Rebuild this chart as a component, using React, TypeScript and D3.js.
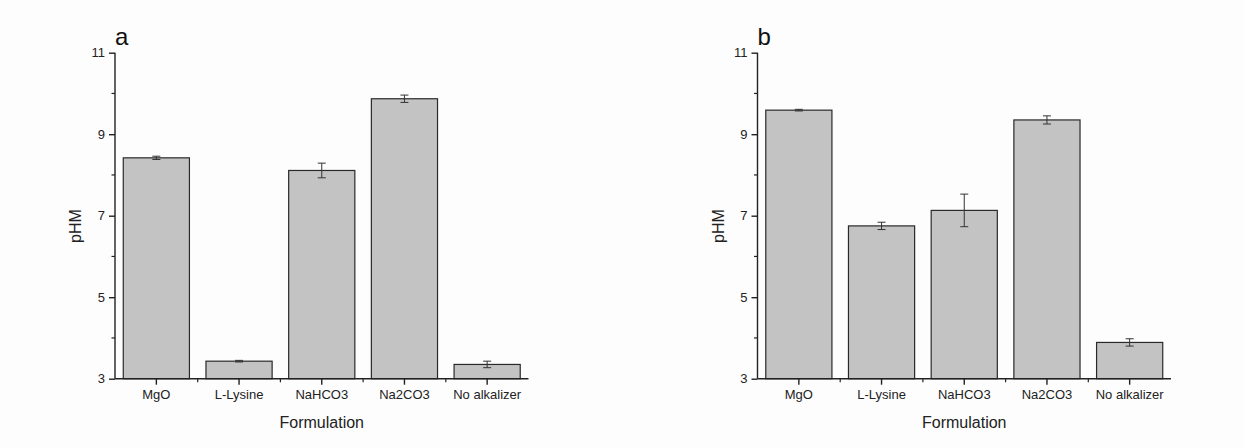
import React, { useEffect, useRef } from "react";
import * as d3 from "d3";

const categories = ["MgO", "L-Lysine", "NaHCO3", "Na2CO3", "No alkalizer"];

const valuesA = [8.42, 3.43, 8.11, 9.87, 3.35];
const errorsA = [0.04, 0.02, 0.18, 0.09, 0.08];

const valuesB = [9.59, 6.75, 7.13, 9.35, 3.89];
const errorsB = [0.02, 0.09, 0.4, 0.1, 0.09];

const majorTicks = [3, 5, 7, 9, 11];
const minorTicks = [4, 6, 8, 10];

const panels = [
  { label: "a", values: valuesA, errors: errorsA, left: 115 },
  { label: "b", values: valuesB, errors: errorsB, left: 757.5 },
];

const App: React.FC = () => {
  const svgRef = useRef<SVGSVGElement>(null);

  useEffect(() => {
    if (!svgRef.current) return;
    const root = d3.select(svgRef.current);
    root.selectAll("*").remove();

    const top = 52.7;
    const bottom = 378.7;
    const plotW = 413.5;
    const font = "Arial, 'Liberation Sans', sans-serif";

    root
      .append("rect")
      .attr("width", 1244)
      .attr("height", 448)
      .attr("fill", "#fdfdfd");

    panels.forEach((p) => {
      const g = root.append("g").attr("transform", `translate(${p.left},0)`);

      const x = d3
        .scaleBand<string>()
        .domain(categories)
        .range([0, plotW])
        .paddingInner(0.2)
        .paddingOuter(0.1);

      const y = d3.scaleLinear().domain([3, 11]).range([bottom, top]);

      const rows = categories.map((c, i) => ({
        cat: c,
        value: p.values[i],
        err: p.errors[i],
      }));

      // Bars
      g.selectAll("rect.bar")
        .data(rows)
        .enter()
        .append("rect")
        .attr("class", "bar")
        .attr("x", (d) => x(d.cat)!)
        .attr("y", (d) => y(d.value))
        .attr("width", x.bandwidth())
        .attr("height", (d) => y(3) - y(d.value))
        .attr("fill", "#c3c3c3")
        .attr("stroke", "#2a2a2a")
        .attr("stroke-width", 1.2);

      // Error bars
      const eb = g
        .selectAll("g.err")
        .data(rows)
        .enter()
        .append("g")
        .attr("class", "err")
        .attr("stroke", "#333")
        .attr("stroke-width", 1);
      const cx = (d: { cat: string }) => x(d.cat)! + x.bandwidth() / 2;
      eb.append("line")
        .attr("x1", cx)
        .attr("x2", cx)
        .attr("y1", (d) => y(d.value + d.err))
        .attr("y2", (d) => y(d.value - d.err));
      eb.append("line")
        .attr("x1", (d) => cx(d) - 4)
        .attr("x2", (d) => cx(d) + 4)
        .attr("y1", (d) => y(d.value + d.err))
        .attr("y2", (d) => y(d.value + d.err));
      eb.append("line")
        .attr("x1", (d) => cx(d) - 4)
        .attr("x2", (d) => cx(d) + 4)
        .attr("y1", (d) => y(d.value - d.err))
        .attr("y2", (d) => y(d.value - d.err));

      // Y axis
      const yAxis = g
        .append("g")
        .call(d3.axisLeft(y).tickValues(majorTicks).tickSize(6).tickPadding(4));
      yAxis.select(".domain").attr("d", `M0,${top}V${bottom}`);
      yAxis
        .selectAll("text")
        .style("font-family", font)
        .style("font-size", "13px")
        .attr("fill", "#222");
      yAxis.selectAll("line, path").attr("stroke", "#222").attr("stroke-width", 1.4);

      g.append("g")
        .selectAll("line")
        .data(minorTicks)
        .enter()
        .append("line")
        .attr("x1", -3.5)
        .attr("x2", 0)
        .attr("y1", (d) => y(d))
        .attr("y2", (d) => y(d))
        .attr("stroke", "#222")
        .attr("stroke-width", 1.2);

      // X axis
      const xAxis = g
        .append("g")
        .attr("transform", `translate(0,${bottom})`)
        .call(d3.axisBottom(x).tickSize(6).tickPadding(5));
      xAxis.select(".domain").attr("d", `M0,0H${plotW}`);
      xAxis
        .selectAll("text")
        .style("font-family", font)
        .style("font-size", "13px")
        .attr("fill", "#222");
      xAxis.selectAll("line, path").attr("stroke", "#222").attr("stroke-width", 1.4);

      const step = x.step();
      g.append("g")
        .selectAll("line")
        .data(categories.slice(1))
        .enter()
        .append("line")
        .attr("x1", (d) => x(d)! - (step - x.bandwidth()) / 2)
        .attr("x2", (d) => x(d)! - (step - x.bandwidth()) / 2)
        .attr("y1", bottom)
        .attr("y2", bottom + 3.5)
        .attr("stroke", "#222")
        .attr("stroke-width", 1.2);

      // Panel label
      g.append("text")
        .attr("x", 0)
        .attr("y", 45)
        .style("font-family", font)
        .style("font-size", "24px")
        .attr("fill", "#111")
        .text(p.label);

      // Axis titles
      g.append("text")
        .attr("x", plotW / 2)
        .attr("y", 428)
        .attr("text-anchor", "middle")
        .style("font-family", font)
        .style("font-size", "16px")
        .attr("fill", "#222")
        .text("Formulation");

      g.append("text")
        .attr("transform", "rotate(-90)")
        .attr("x", -226)
        .attr("y", -34)
        .attr("text-anchor", "middle")
        .style("font-family", font)
        .style("font-size", "16px")
        .attr("fill", "#222")
        .text("pHM");
    });
  }, []);

  return (
    <svg
      ref={svgRef}
      width={1244}
      height={448}
      style={{ position: "absolute", left: 0, top: 0 }}
    ></svg>
  );
};

export default App;
